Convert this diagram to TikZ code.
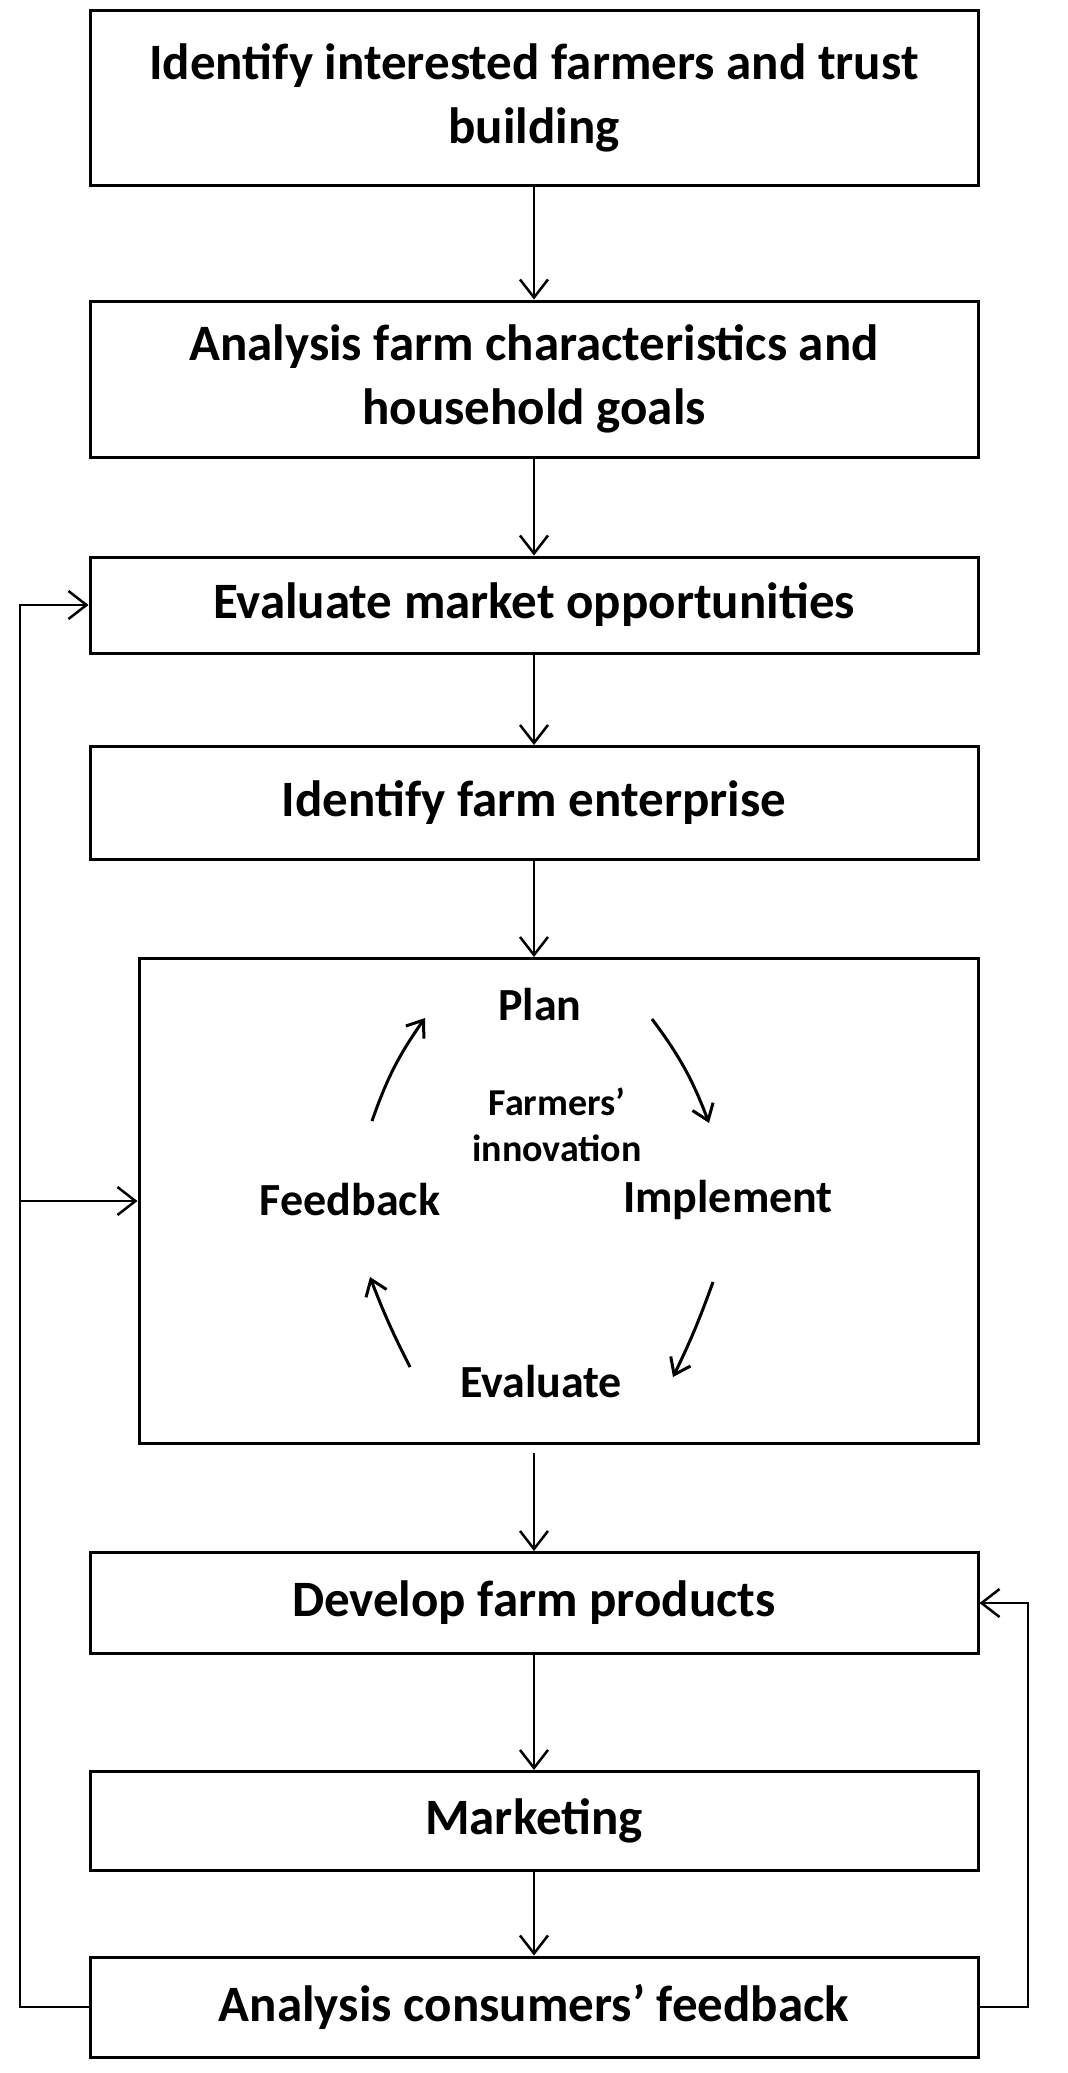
\documentclass[tikz,border=0pt]{standalone}
\usepackage{fontspec}
\setmainfont{Carlito}
\usetikzlibrary{arrows.meta}
\begin{document}
\begin{tikzpicture}[x=1pt,y=-1pt,
  bx/.style={draw,line width=3pt,inner sep=0pt},
  lbl/.style={font=\bfseries\fontsize{51}{64}\selectfont,align=center},
  inl/.style={font=\bfseries\fontsize{46}{56}\selectfont,align=center},
  ar/.style={line width=2.5pt,-{Straight Barb[length=18pt,width=28pt,line width=2.5pt]}},
  cy/.style={line width=3pt,-{Straight Barb[length=15pt,width=22pt,line width=3pt]}}]
\useasboundingbox (0,0) rectangle (1068,2073);
\node[bx,minimum width=888pt,minimum height=175pt] (b1) at (534,98) {};
\node[lbl] at (b1) {Identify interested farmers and trust\\building};
\node[bx,minimum width=888pt,minimum height=156pt] (b2) at (534,379) {};
\node[lbl] at (b2) {Analysis farm characteristics and\\household goals};
\node[bx,minimum width=888pt,minimum height=96pt] (b3) at (534,605) {};
\node[lbl] at (b3) {Evaluate market opportunities};
\node[bx,minimum width=888pt,minimum height=113pt] (b4) at (534,803) {};
\node[lbl] at (b4) {Identify farm enterprise};
\node[bx,minimum width=839pt,minimum height=485pt] (b5) at (558.5,1201) {};
\node[bx,minimum width=888pt,minimum height=101pt] (b6) at (534,1603) {};
\node[lbl] at (b6) {Develop farm products};
\node[bx,minimum width=888pt,minimum height=99pt] (b7) at (534,1821) {};
\node[lbl] at (b7) {Marketing};
\node[bx,minimum width=888pt,minimum height=100pt] (b8) at (534,2007) {};
\node[lbl] at (b8) {Analysis consumers’ feedback};
% inner cycle
\node[inl] (plan) at (540,1005) {Plan};
\node[inl,font=\bfseries\fontsize{38}{46}\selectfont] (fi) at (557,1125) {Farmers’\\innovation};
\node[inl] (fb) at (350,1200) {Feedback};
\node[inl] (im) at (728,1200) {Implement};
\node[inl] (ev) at (541,1382) {Evaluate};
\coordinate (a1s) at (372,1121); \coordinate (a1e) at (425,1018);
\coordinate (a2s) at (652,1019); \coordinate (a2e) at (709,1123);
\coordinate (a3s) at (713,1282); \coordinate (a3e) at (673,1377);
\coordinate (a4s) at (410,1367); \coordinate (a4e) at (370,1277);
\draw[cy] (a1s) to[bend left=8] (a1e);
\draw[cy] (a2s) to[bend left=8] (a2e);
\draw[cy] (a3s) to[bend left=3] (a3e);
\draw[cy] (a4s) to[bend left=3] (a4e);
% main arrows
\draw[ar] (b1.south) -- (b2.north);
\draw[ar] (b2.south) -- (b3.north);
\draw[ar] (b3.south) -- (b4.north);
\draw[ar] (b4.south) -- (b4.south |- b5.north);
\draw[ar] (b4.south |- b5.south) ++(0,8) coordinate (c5) -- (b6.north);
\draw[ar] (b6.south) -- (b7.north);
\draw[ar] (b7.south) -- (b8.north);
% loops
\coordinate (L) at (20,2007);
\draw[ar] (b8.west) -- (L) -- (L |- b3.west) -- (b3.west);
\draw[ar] (L |- b5.west) -- (b5.west);
\coordinate (R) at (1028,2007);
\draw[ar] (b8.east) -- (R) -- (R |- b6.east) -- (b6.east);
\end{tikzpicture}
\end{document}
